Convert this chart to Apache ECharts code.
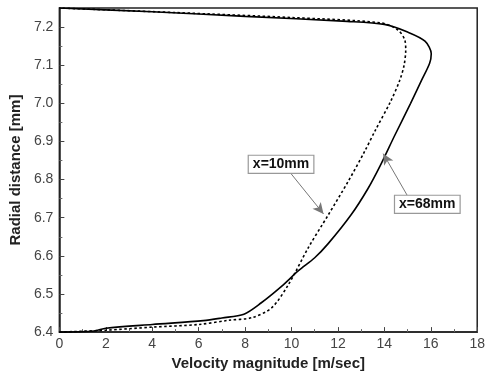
<!DOCTYPE html>
<html><head><meta charset="utf-8">
<script src="https://cdn.jsdelivr.net/npm/echarts@6/dist/echarts.min.js"></script>
<style>html,body{margin:0;padding:0;background:#fff}#c{width:488px;height:376px}</style>
</head><body><div id="c"></div>
<script>
const vel68 = [0, 1.5, 2, 4, 6.2, 7.0, 7.95, 8.7, 9.57, 10.3, 11.0, 11.58, 12.56, 13.29, 13.85, 14.44, 15.13, 15.6, 15.95, 16.02, 15.75, 15.0, 14.0, 12.4, 8, 4, 0];
const rad68 = [6.40, 6.403, 6.41, 6.42, 6.43, 6.437, 6.447, 6.477, 6.52, 6.561, 6.595, 6.632, 6.707, 6.776, 6.84, 6.915, 7.0, 7.06, 7.105, 7.13, 7.163, 7.187, 7.207, 7.215, 7.228, 7.24, 7.25];
const vel10 = [0, 2, 4, 6, 7.3, 8.3, 9.15, 9.87, 10.73, 11.58, 12.44, 13.16, 13.6, 14.27, 14.66, 14.85, 14.92, 14.87, 14.57, 13.85, 10, 5, 0];
const rad10 = [6.40, 6.405, 6.413, 6.42, 6.431, 6.438, 6.464, 6.525, 6.622, 6.707, 6.795, 6.875, 6.928, 7.005, 7.06, 7.1, 7.14, 7.168, 7.193, 7.211, 7.225, 7.238, 7.25];
const xTicks = {min: 0, max: 18, interval: 2};
const yTicks = {min: 6.4, max: 7.25, interval: 0.1};
const labels = [
  {text: 'x=10mm', at: [9.55, 6.84], from: [9.96, 6.817], to: [11.38, 6.71]},
  {text: 'x=68mm', at: [15.85, 6.735], from: [15.0, 6.757], to: [13.95, 6.868]}
];
const zip = (a, b) => a.map((v, i) => [v, b[i]]);

const chart = echarts.init(document.getElementById('c'), null, {renderer: 'canvas'});
const font = 'Liberation Sans, Arial, sans-serif';
chart.setOption({
  animation: false,
  grid: {left: 59, right: 8, top: 8, bottom: 36, show: true, borderColor: '#222', borderWidth: 1.5, backgroundColor: '#fff'},
  xAxis: {
    type: 'value', min: xTicks.min, max: xTicks.max, interval: xTicks.interval,
    name: 'Velocity magnitude [m/sec]', nameLocation: 'middle', nameGap: 20,
    nameTextStyle: {fontFamily: font, fontWeight: 'bold', fontSize: 15, color: '#222'},
    axisLine: {lineStyle: {color: '#222', width: 1.5}},
    axisTick: {inside: true, length: 5, lineStyle: {color: '#444'}},
    minorTick: {show: true, splitNumber: 2, length: 3, lineStyle: {color: '#666'}},
    axisLabel: {fontFamily: font, fontSize: 14, color: '#444', margin: 5},
    splitLine: {show: false}
  },
  yAxis: {
    type: 'value', min: yTicks.min, max: yTicks.max, interval: yTicks.interval,
    name: 'Radial distance [mm]', nameLocation: 'middle', nameGap: 35,
    nameTextStyle: {fontFamily: font, fontWeight: 'bold', fontSize: 15, color: '#222'},
    axisLine: {lineStyle: {color: '#222', width: 1.5}},
    axisTick: {inside: true, length: 5, lineStyle: {color: '#444'}},
    minorTick: {show: true, splitNumber: 2, length: 3, lineStyle: {color: '#666'}},
    axisLabel: {fontFamily: font, fontSize: 14, color: '#444', margin: 6, showMaxLabel: false,
      formatter: v => v.toFixed(1)},
    splitLine: {show: false}
  },
  series: [
    {type: 'line', data: zip(vel68, rad68), showSymbol: false, smooth: 0.3,
     lineStyle: {color: '#000', width: 1.6, type: 'solid'},
     markLine: {silent: true, symbol: ['none', 'arrow'], symbolSize: [8, 11], label: {show: false},
       lineStyle: {color: '#777', width: 1, type: 'solid'},
       data: [[{coord: labels[1].from}, {coord: labels[1].to}]]}},
    {type: 'line', data: zip(vel10, rad10), showSymbol: false, smooth: 0.3,
     lineStyle: {color: '#000', width: 1.6, type: [2.5, 2.5]},
     markLine: {silent: true, symbol: ['none', 'arrow'], symbolSize: [8, 11], label: {show: false},
       lineStyle: {color: '#777', width: 1, type: 'solid'},
       data: [[{coord: labels[0].from}, {coord: labels[0].to}]]}}
  ]
});
const g = labels.map(l => {
  const p = chart.convertToPixel({gridIndex: 0}, l.at);
  return {type: 'text', x: p[0], y: p[1], z: 100,
    style: {text: l.text, fontFamily: font, fontWeight: 'bold', fontSize: 14, fill: '#111',
      align: 'center', verticalAlign: 'middle', backgroundColor: '#fff',
      borderColor: '#999', borderWidth: 1.2, padding: [2, 4, 1, 4]}};
});
chart.setOption({graphic: g});
</script></body></html>
